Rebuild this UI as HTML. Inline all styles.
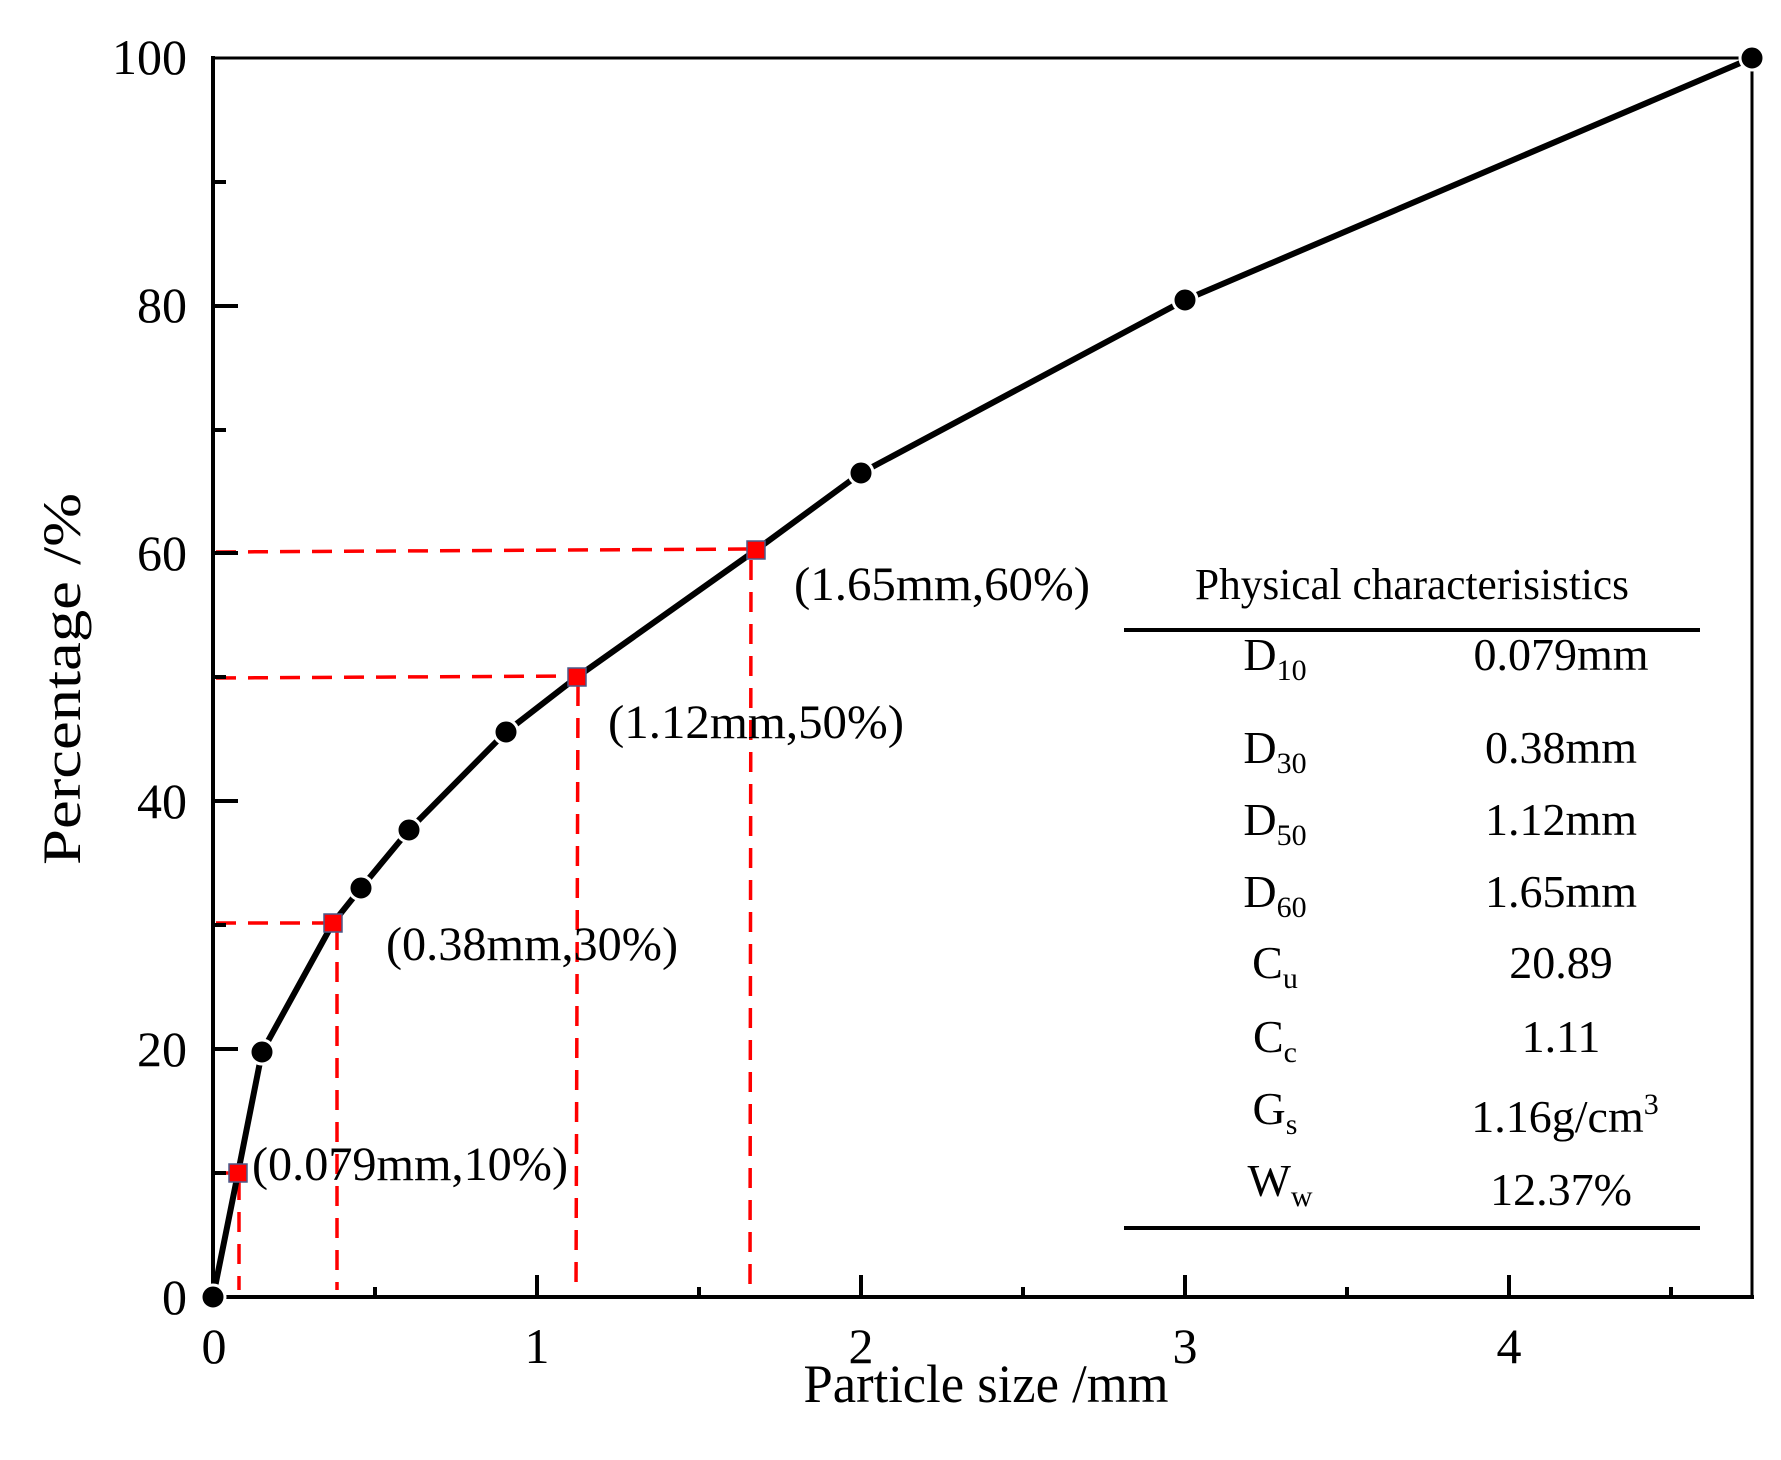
<!DOCTYPE html>
<html><head><meta charset="utf-8"><style>html,body{margin:0;padding:0;background:#fff}svg{display:block}</style></head>
<body>
<svg width="1781" height="1460" viewBox="0 0 1781 1460" xmlns="http://www.w3.org/2000/svg" font-family="'Liberation Serif', serif" fill="#000">
<!-- red dashed guides -->
<g stroke="#ff0000" stroke-width="3.5" stroke-dasharray="20,12" fill="none">
  <line x1="216" y1="1173" x2="238" y2="1173"/>
  <line x1="239" y1="1180" x2="239" y2="1290"/>
  <line x1="216" y1="923" x2="333" y2="923"/>
  <line x1="337" y1="930" x2="337" y2="1290"/>
  <line x1="216" y1="678" x2="577" y2="676"/>
  <line x1="578" y1="686" x2="576" y2="1290"/>
  <line x1="216" y1="552" x2="756" y2="549"/>
  <line x1="751" y1="560" x2="750" y2="1290"/>
</g>
<!-- axes -->
<g stroke="#000" fill="none">
  <line x1="213" y1="56" x2="213" y2="1299" stroke-width="4"/>
  <line x1="211" y1="1297" x2="1754" y2="1297" stroke-width="4"/>
  <line x1="211" y1="58" x2="1754" y2="58" stroke-width="3"/>
  <line x1="1752" y1="56" x2="1752" y2="1299" stroke-width="3"/>
  <!-- y ticks -->
  <g stroke-width="4">
    <line x1="213" y1="1049" x2="238" y2="1049"/>
    <line x1="213" y1="801" x2="238" y2="801"/>
    <line x1="213" y1="553" x2="238" y2="553"/>
    <line x1="213" y1="306" x2="238" y2="306"/>
    <line x1="213" y1="1173" x2="226" y2="1173"/>
    <line x1="213" y1="925" x2="226" y2="925"/>
    <line x1="213" y1="677" x2="226" y2="677"/>
    <line x1="213" y1="430" x2="226" y2="430"/>
    <line x1="213" y1="182" x2="226" y2="182"/>
  </g>
  <!-- x ticks -->
  <g stroke-width="4">
    <line x1="537" y1="1297" x2="537" y2="1275"/>
    <line x1="861" y1="1297" x2="861" y2="1275"/>
    <line x1="1185" y1="1297" x2="1185" y2="1275"/>
    <line x1="1509" y1="1297" x2="1509" y2="1275"/>
    <line x1="375" y1="1297" x2="375" y2="1287"/>
    <line x1="699" y1="1297" x2="699" y2="1287"/>
    <line x1="1023" y1="1297" x2="1023" y2="1287"/>
    <line x1="1347" y1="1297" x2="1347" y2="1287"/>
    <line x1="1671" y1="1297" x2="1671" y2="1287"/>
  </g>
</g>
<!-- curve -->
<polyline fill="none" stroke="#000" stroke-width="6" stroke-linejoin="round" points="213,1297 238,1173 262,1052 333,923 361,888 409,830 506,732 577,677 756,550 861,473 1185,300 1752,58"/>
<g fill="#000" stroke="#fff" stroke-width="3">
  <circle cx="213" cy="1297" r="12"/>
  <circle cx="262" cy="1052" r="12"/>
  <circle cx="361" cy="888" r="12"/>
  <circle cx="409" cy="830" r="12"/>
  <circle cx="506" cy="732" r="12"/>
  <circle cx="861" cy="473" r="12"/>
  <circle cx="1185" cy="300" r="12"/>
  <circle cx="1752" cy="58" r="12"/>
</g>
<g fill="#ff0000" stroke="#4a5a8a" stroke-width="1.5">
  <rect x="229" y="1164" width="18" height="18"/>
  <rect x="324" y="914" width="18" height="18"/>
  <rect x="568" y="668" width="18" height="18"/>
  <rect x="747" y="541" width="18" height="18"/>
</g>
<!-- tick labels -->
<g font-size="50" text-anchor="end">
  <text x="187" y="74">100</text>
  <text x="187" y="322">80</text>
  <text x="187" y="570">60</text>
  <text x="187" y="818">40</text>
  <text x="187" y="1066">20</text>
  <text x="187" y="1314">0</text>
</g>
<g font-size="50" text-anchor="middle">
  <text x="214" y="1363">0</text>
  <text x="537" y="1363">1</text>
  <text x="861" y="1363">2</text>
  <text x="1185" y="1363">3</text>
  <text x="1509" y="1363">4</text>
</g>
<text x="986" y="1402" font-size="54" text-anchor="middle" textLength="365" lengthAdjust="spacingAndGlyphs">Particle size /mm</text>
<text transform="translate(80,679) rotate(-90)" font-size="54" text-anchor="middle" textLength="372" lengthAdjust="spacingAndGlyphs">Percentage /%</text>
<!-- annotations -->
<g font-size="48">
  <text x="252" y="1180" textLength="316" lengthAdjust="spacingAndGlyphs">(0.079mm,10%)</text>
  <text x="386" y="960" textLength="292" lengthAdjust="spacingAndGlyphs">(0.38mm,30%)</text>
  <text x="608" y="738" textLength="296" lengthAdjust="spacingAndGlyphs">(1.12mm,50%)</text>
  <text x="794" y="600" textLength="296" lengthAdjust="spacingAndGlyphs">(1.65mm,60%)</text>
</g>
<!-- table -->
<text x="1195" y="599" font-size="44" textLength="434" lengthAdjust="spacingAndGlyphs">Physical characterisistics</text>
<line x1="1124" y1="630" x2="1700" y2="630" stroke="#000" stroke-width="4"/>
<line x1="1124" y1="1228" x2="1700" y2="1228" stroke="#000" stroke-width="4"/>
<g font-size="46" text-anchor="middle">
  <text x="1275" y="670">D<tspan font-size="30" dy="10">10</tspan></text>
  <text x="1275" y="763">D<tspan font-size="30" dy="10">30</tspan></text>
  <text x="1275" y="835">D<tspan font-size="30" dy="10">50</tspan></text>
  <text x="1275" y="907">D<tspan font-size="30" dy="10">60</tspan></text>
  <text x="1275" y="978">C<tspan font-size="30" dy="10">u</tspan></text>
  <text x="1275" y="1052">C<tspan font-size="30" dy="10">c</tspan></text>
  <text x="1275" y="1124">G<tspan font-size="30" dy="10">s</tspan></text>
  <text x="1280" y="1196">W<tspan font-size="30" dy="10">w</tspan></text>
  <text x="1561" y="670">0.079mm</text>
  <text x="1561" y="763">0.38mm</text>
  <text x="1561" y="835">1.12mm</text>
  <text x="1561" y="907">1.65mm</text>
  <text x="1561" y="978">20.89</text>
  <text x="1561" y="1052">1.11</text>
  <text x="1565" y="1132">1.16g/cm<tspan font-size="30" dy="-18">3</tspan></text>
  <text x="1561" y="1205">12.37%</text>
</g>
</svg>
</body></html>
